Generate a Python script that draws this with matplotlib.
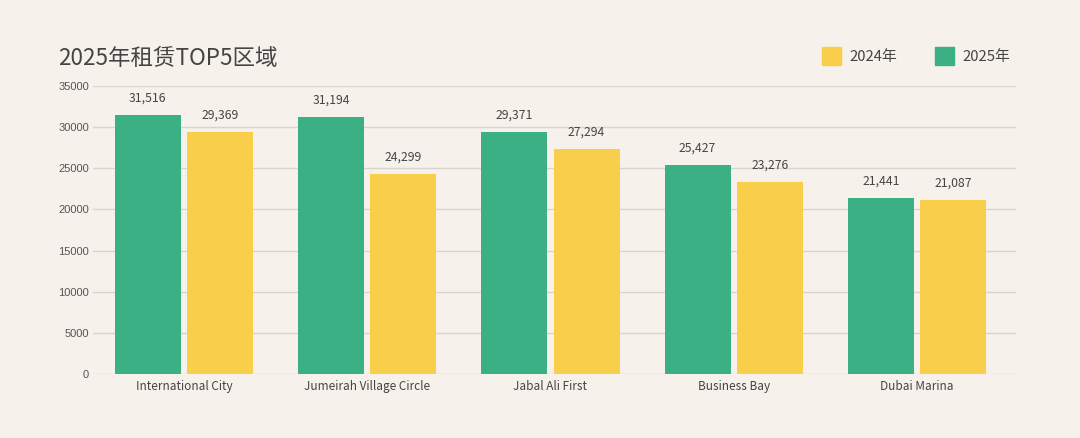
import numpy as np
import matplotlib.pyplot as plt

plt.rcParams['font.family'] = ['Noto Sans CJK SC', 'DejaVu Sans']

# data
areas = ['International City', 'Jumeirah Village Circle', 'Jabal Ali First',
         'Business Bay', 'Dubai Marina']
y2025 = [31516, 31194, 29371, 25427, 21441]
y2024 = [29369, 24299, 27294, 23276, 21087]
yticks = [0, 5000, 10000, 15000, 20000, 25000, 30000, 35000]

green = '#3bb085'
yellow = '#f9ce4a'
bg = '#f7f1eb'
txt = '#444444'

fig = plt.figure(figsize=(10.8, 4.38), dpi=100, facecolor=bg)
ax = fig.add_axes([0.0861, 0.1461, 0.8546, 0.6576], facecolor=bg)

x = np.arange(len(areas))
w = 0.36
off = 0.197
b1 = ax.bar(x - off, y2025, w, color=green, label='2025年', zorder=3)
b2 = ax.bar(x + off, y2024, w, color=yellow, label='2024年', zorder=3)

for bars, vals in ((b1, y2025), (b2, y2024)):
    for b, v in zip(bars, vals):
        ax.annotate(f'{v:,}', (b.get_x() + b.get_width() / 2, v),
                    xytext=(0, 7.5), textcoords='offset points',
                    ha='center', va='bottom', fontsize=8.8, color=txt)

ax.set_xlim(-0.496, 4.54)
ax.set_ylim(0, 35000)
ax.set_yticks(yticks)
ax.set_yticklabels([str(v) for v in yticks])
for lab in ax.get_yticklabels():
    lab.set_fontfamily('Liberation Sans')
    lab.set_fontsize(8)
    lab.set_color('#555555')
ax.set_xticks(x)
ax.set_xticklabels(areas, fontsize=8.5, color=txt)
ax.tick_params(axis='x', length=0, pad=4)
ax.tick_params(axis='y', length=0, pad=3)
ax.grid(axis='y', color='#d9d4ce', linewidth=1, zorder=0)
for s in ax.spines.values():
    s.set_visible(False)

fig.text(0.054, 0.866, '2025年租赁TOP5区域', fontsize=16.2, color=txt,
         va='center', ha='left')

# legend drawn by hand, 2024 first
for xs, col, lab in ((0.761, yellow, '2024年'), (0.866, green, '2025年')):
    fig.patches.append(plt.Rectangle((xs, 0.851), 0.0176, 0.041, color=col,
                                     transform=fig.transFigure, figure=fig))
    fig.text(xs + 0.0255, 0.871, lab, fontsize=10.7, color=txt,
             va='center', ha='left')

fig.savefig('out.png', dpi=100, facecolor=bg)
